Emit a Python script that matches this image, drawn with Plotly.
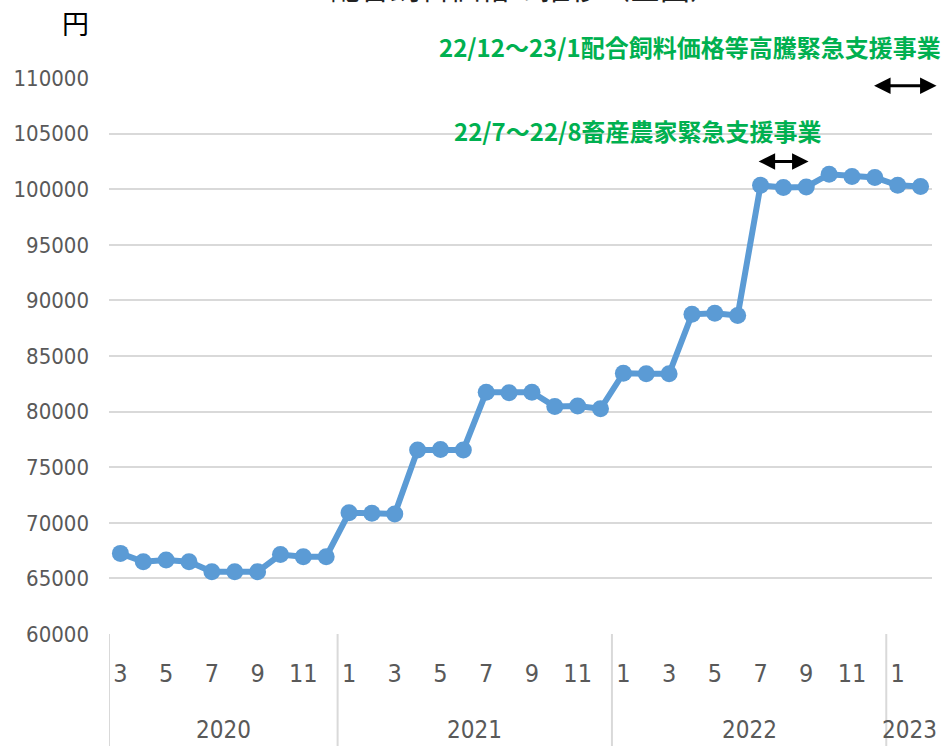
import plotly.graph_objects as go

# Monthly feed price (yen per tonne), March 2020 - February 2023
years = [2020] * 10 + [2021] * 12 + [2022] * 12 + [2023] * 2
months = list(range(3, 13)) + list(range(1, 13)) + list(range(1, 13)) + [1, 2]
prices = [
    67250, 66500, 66650, 66500, 65600, 65600, 65600, 67150, 66950, 66950,
    70900, 70850, 70800, 76550, 76600, 76550, 81750, 81700, 81750, 80450, 80500, 80250,
    83450, 83400, 83400, 88750, 88850, 88650, 100350, 100150, 100200, 101350, 101150, 101050,
    100350, 100250,
]
year_labels = ["2020", "2021", "2022", "2023"]
y_ticks = [60000, 65000, 70000, 75000, 80000, 85000, 90000, 95000, 100000, 105000, 110000]

title_text = "配合飼料価格の推移（全国）"
unit_text = "円"
program_1 = "22/7～22/8畜産農家緊急支援事業"
program_2 = "22/12～23/1配合飼料価格等高騰緊急支援事業"

# support-program periods (start month index, end month index, height)
period_1 = (27.85, 30.1, 102500)
period_2 = (32.9, 35.7, 109300)

idx = list(range(len(prices)))

LINE = "#5B9BD5"
GRID = "#D9D9D9"
TXT = "#595959"
GREEN = "#00B050"
NARROW = "Liberation Sans Narrow, DejaVu Sans Condensed, Arial Narrow, sans-serif"
CJK = "Noto Sans CJK JP, Noto Sans CJK SC, sans-serif"

fig = go.Figure()
fig.add_trace(go.Scatter(
    x=idx, y=prices, mode="lines+markers",
    line=dict(color=LINE, width=6),
    marker=dict(color=LINE, size=17),
    cliponaxis=False, hoverinfo="skip", showlegend=False,
))

# odd-month tick labels
tick_vals = [i for i, m in zip(idx, months) if m % 2 == 1]
tick_text = [str(months[i]) for i in tick_vals]

# year group boundaries and centres
bounds = [-0.5]
for i in range(1, len(years)):
    if years[i] != years[i - 1]:
        bounds.append(i - 0.5)
bounds_end = bounds[1:] + [len(years) - 0.5]

shapes = []
for b in bounds:
    shapes.append(dict(type="line", xref="x", yref="paper", x0=b, x1=b, y0=0, y1=-0.3,
                       line=dict(color=GRID, width=2)))

annotations = []
for lab, b0, b1 in zip(year_labels, bounds, bounds_end):
    annotations.append(dict(x=(b0 + b1) / 2, y=-0.172, xref="x", yref="paper",
                            text=lab, showarrow=False, xanchor="center", yanchor="middle",
                            font=dict(family=NARROW, size=24, color=TXT)))

annotations += [
    dict(x=0.505, y=1.122, xref="paper", yref="paper", text=title_text, showarrow=False,
         xanchor="center", yanchor="bottom", font=dict(family=CJK, size=30, color="#222222")),
    dict(x=-0.0413, y=1.1007, xref="paper", yref="paper", text=unit_text, showarrow=False,
         xanchor="center", yanchor="middle", font=dict(family=CJK, size=27, color="#000000")),
    dict(x=1.0134, y=1.0558, xref="paper", yref="paper", text="<b>" + program_2 + "</b>",
         showarrow=False, xanchor="right", yanchor="middle",
         font=dict(family=CJK, size=24, color=GREEN)),
    dict(x=0.4168, y=0.9047, xref="paper", yref="paper", text="<b>" + program_1 + "</b>",
         showarrow=False, xanchor="left", yanchor="middle",
         font=dict(family=CJK, size=24, color=GREEN)),
]
for x0, x1, yv in (period_1, period_2):
    annotations.append(dict(x=x1, y=yv, ax=x0, ay=yv, xref="x", yref="y", axref="x", ayref="y",
                            text="", showarrow=True, arrowhead=2, startarrowhead=2,
                            arrowside="end+start", arrowwidth=3, arrowsize=1.1,
                            startarrowsize=1.1, arrowcolor="#000000"))

fig.update_layout(
    width=945, height=746,
    margin=dict(l=109, r=13, t=78, b=112),
    paper_bgcolor="white", plot_bgcolor="white",
    shapes=shapes, annotations=annotations,
    xaxis=dict(range=[-0.5, len(prices) - 0.5], tickmode="array", tickvals=tick_vals,
               ticktext=tick_text, showgrid=False, zeroline=False, showline=False,
               ticks="", ticklabelstandoff=22, automargin=False,
               tickfont=dict(family=NARROW, size=25, color=TXT)),
    yaxis=dict(range=[60000, 110000], tickmode="array", tickvals=y_ticks,
               ticktext=[str(v) for v in y_ticks], showgrid=True, gridcolor=GRID, gridwidth=2,
               zeroline=False, showline=False, ticks="", ticklabelstandoff=19,
               automargin=False,
               tickfont=dict(family=NARROW, size=22, color=TXT)),
)

fig.write_html("out.html")
